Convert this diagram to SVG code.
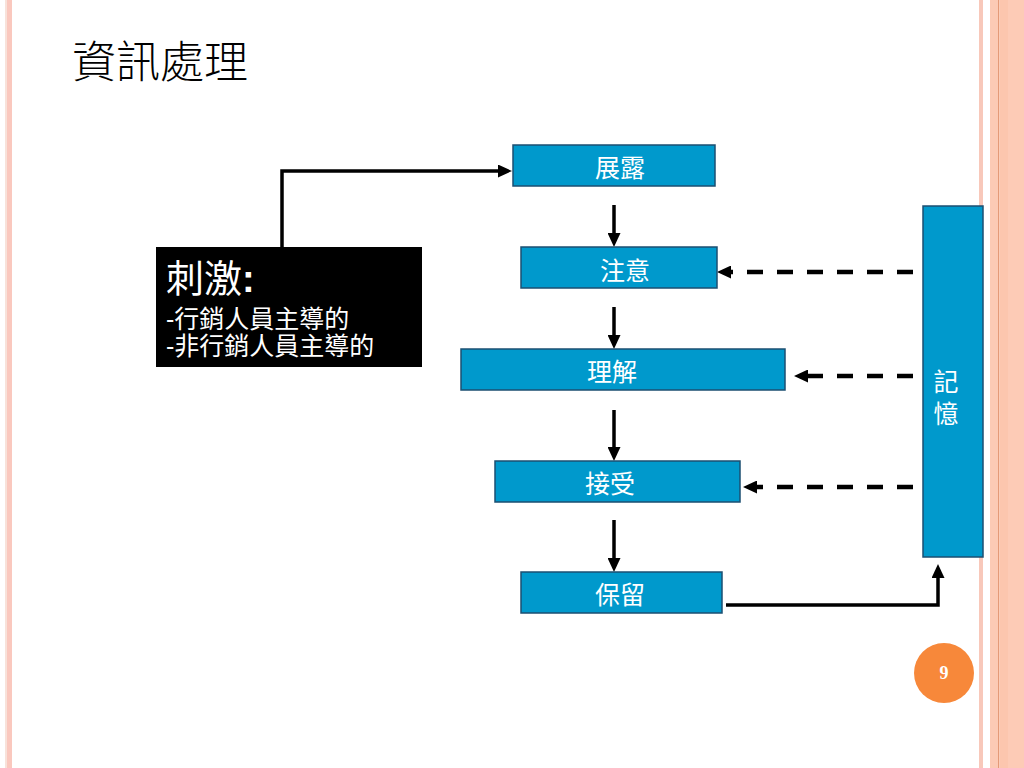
<svg xmlns="http://www.w3.org/2000/svg" width="1024" height="768" viewBox="0 0 1024 768">
  <style>
    .box { fill: #0099CC; stroke: #1B4F72; stroke-width: 1.5; }
    .lbl { font-family: "Liberation Sans", "Noto Sans CJK TC", sans-serif; font-size: 25px; fill: #FFFFFF; text-anchor: middle; }
    .solid { fill: none; stroke: #000000; stroke-width: 3.5; }
    .dash { fill: none; stroke: #000000; stroke-width: 4.5; stroke-dasharray: 16 14; }
    .wt { font-family: "Liberation Sans", "Noto Sans CJK TC", sans-serif; fill: #FFFFFF; }
  </style>
  <defs>
    <marker id="ah" viewBox="0 0 14 13" refX="0" refY="6.5" markerWidth="14" markerHeight="13" markerUnits="userSpaceOnUse" orient="auto">
      <path d="M0,0 L14,6.5 L0,13 Z" fill="#000000"/>
    </marker>
  </defs>

  <rect width="1024" height="768" fill="#FFFFFF"/>

  <g id="frame">
    <rect x="5" y="0" width="2" height="768" fill="#F8E2DA"/>
    <rect x="7" y="0" width="5" height="768" fill="#FAC8BE"/>
    <rect x="979" y="0" width="4" height="768" fill="#F8C8BA"/>
    <rect x="990" y="0" width="8" height="768" fill="#FCCAB5"/>
    <rect x="998" y="0" width="1.2" height="768" fill="#E49A78"/>
    <rect x="999.2" y="0" width="8.8" height="768" fill="#FCC6AE"/>
    <rect x="1008" y="0" width="16" height="768" fill="#FDCBB6"/>
  </g>

  <text id="title" x="72" y="78" font-family="'Noto Sans CJK TC', sans-serif" font-weight="300" font-size="44" fill="#000000">資訊處理</text>

  <g id="connectors">
    <path class="solid" d="M282,248 V171 H498" marker-end="url(#ah)"/>
    <path class="solid" d="M614,205 V233" marker-end="url(#ah)"/>
    <path class="solid" d="M614,307 V335" marker-end="url(#ah)"/>
    <path class="solid" d="M614,410 V447" marker-end="url(#ah)"/>
    <path class="solid" d="M614,520 V558" marker-end="url(#ah)"/>
    <path class="dash" d="M913,272 H731" marker-end="url(#ah)"/>
    <path class="dash" d="M913,376 H808" marker-end="url(#ah)"/>
    <path class="dash" d="M913,487 H757" marker-end="url(#ah)"/>
    <path class="solid" d="M726,605 H938 V578" marker-end="url(#ah)"/>
  </g>

  <g id="stimulus">
    <rect x="156" y="247" width="266" height="120" fill="#000000"/>
    <text class="wt" x="166" y="292" font-size="38">刺激<tspan font-weight="bold">:</tspan></text>
    <text class="wt" x="166" y="328" font-size="25">-行銷人員主導的</text>
    <text class="wt" x="166" y="355" font-size="25">-非行銷人員主導的</text>
  </g>

  <g id="exposure">
    <rect class="box" x="513" y="145" width="202" height="41"/>
    <text class="lbl" x="620" y="177">展露</text>
  </g>
  <g id="attention">
    <rect class="box" x="521" y="247" width="196" height="41"/>
    <text class="lbl" x="625" y="280">注意</text>
  </g>
  <g id="comprehension">
    <rect class="box" x="461" y="349" width="324" height="41"/>
    <text class="lbl" x="612" y="381">理解</text>
  </g>
  <g id="acceptance">
    <rect class="box" x="495" y="461" width="245" height="41"/>
    <text class="lbl" x="610" y="493">接受</text>
  </g>
  <g id="retention">
    <rect class="box" x="521" y="572" width="201" height="41"/>
    <text class="lbl" x="620" y="604">保留</text>
  </g>
  <g id="memory">
    <rect class="box" x="923" y="206" width="60" height="351"/>
    <text class="lbl" x="946" y="391" font-size="24">記</text>
    <text class="lbl" x="946" y="423" font-size="24">憶</text>
  </g>

  <g id="page-number">
    <circle cx="944" cy="673" r="30" fill="#F7883A"/>
    <text x="944" y="679" font-family="'Liberation Serif', serif" font-weight="bold" font-size="18" fill="#FFFFFF" text-anchor="middle">9</text>
  </g>
</svg>
